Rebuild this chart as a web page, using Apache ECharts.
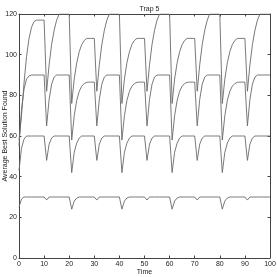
<!DOCTYPE html>
<html>
<head>
<meta charset="utf-8">
<script src="https://cdn.jsdelivr.net/npm/echarts@6/dist/echarts.min.js"></script>
<style>html,body{margin:0;padding:0;background:#fff}#c{width:277px;height:277px}</style>
</head>
<body>
<div id="c"></div>
<script>
const time = [0,1,2,3,4,5,6,7,8,9,10,11,12,13,14,15,16,17,18,19,20,21,22,23,24,25,26,27,28,29,30,31,32,33,34,35,36,37,38,39,40,41,42,43,44,45,46,47,48,49,50,51,52,53,54,55,56,57,58,59,60,61,62,63,64,65,66,67,68,69,70,71,72,73,74,75,76,77,78,79,80,81,82,83,84,85,86,87,88,89,90,91,92,93,94,95,96,97,98,99,100];

const s30 = [25,29,30,30,30,30,30,30,30,30,30,
  28.5,30,30,30,30,30,30,30,30,30,
  24,28,29.5,30,30,30,30,30,30,30,
  28.5,30,30,30,30,30,30,30,30,30,
  24,28,29.5,30,30,30,30,30,30,30,
  28.5,30,30,30,30,30,30,30,30,30,
  24,28,29.5,30,30,30,30,30,30,30,
  28.5,30,30,30,30,30,30,30,30,30,
  24,28,29.5,30,30,30,30,30,30,30,
  28.5,30,30,30,30,30,30,30,30,30];

const s60 = [43,54,58.5,60,60,60,60,60,60,60,60,
  48,56,59,60,60,60,60,60,60,60,
  42,52,56.5,59,60,60,60,60,60,60,
  48,56,59,60,60,60,60,60,60,60,
  42,52,56.5,59,60,60,60,60,60,60,
  48,56,59,60,60,60,60,60,60,60,
  42,52,56.5,59,60,60,60,60,60,60,
  48,56,59,60,60,60,60,60,60,60,
  42,52,56.5,59,60,60,60,60,60,60,
  48,56,59,60,60,60,60,60,60,60];

const s90 = [55,73,83,88,89.5,90,90,90,90,90,90,
  65,78,85.5,89,90,90,90,90,90,90,
  58,70,77.5,82,84.5,85.8,86.4,86.5,86.5,86.5,
  65,78,85.5,89,90,90,90,90,90,90,
  58,70,77.5,82,84.5,85.8,86.4,86.5,86.5,86.5,
  65,78,85.5,89,90,90,90,90,90,90,
  58,70,77.5,82,84.5,85.8,86.4,86.5,86.5,86.5,
  65,78,85.5,89,90,90,90,90,90,90,
  58,70,77.5,82,84.5,85.8,86.4,86.5,86.5,86.5,
  65,78,85.5,89,90,90,90,90,90,90];

const s120 = [58,70,86,99,108,113.5,116.3,117,117,117,117,
  82,95,105,112,117,120,120,120,120,120,
  76,88,96,101.5,105,107,108,108,108,108,
  82,95,105,112,117,120,120,120,120,120,
  76,88,96,101.5,105,107,108,108,108,108,
  82,95,105,112,117,120,120,120,120,120,
  76,88,96,101.5,105,107,108,108,108,108,
  82,95,105,112,117,120,120,120,120,120,
  76,88,96,101.5,105,107,108,108,108,108,
  82,95,105,112,117,120,120,120,120,120];

const xTicks = [0,10,20,30,40,50,60,70,80,90,100];
const yTicks = [0,20,40,60,80,100,120];

const FONT = 'Liberation Sans';
const chart = echarts.init(document.getElementById('c'), null, {renderer:'canvas'});
const pair = arr => time.map((t,i)=>[t,arr[i]]);
const lineStyle = {color:'#6a6a6a', width:0.9};
const axisLineStyle = {color:'#444', width:1};
const mkSeries = arr => ({type:'line', data:pair(arr), showSymbol:false, symbol:'none', lineStyle:lineStyle, xAxisIndex:0, yAxisIndex:0, animation:false, clip:true});

chart.setOption({
  animation:false,
  title:{text:'Trap 5', top:1, left:144.5, textAlign:'center', textStyle:{fontFamily:FONT, fontSize:7, fontWeight:'normal', color:'#222'}},
  grid:{left:19, right:7, top:14, bottom:19, containLabel:false, outerBoundsMode:'none'},
  xAxis:[
    {type:'value', min:xTicks[0], max:xTicks[xTicks.length-1], interval:10, position:'bottom',
     name:'Time', nameLocation:'middle', nameGap:11, nameMoveOverlap:false, nameTextStyle:{fontFamily:FONT, fontSize:7, color:'#222'},
     axisLine:{show:true, onZero:false, lineStyle:axisLineStyle}, axisTick:{show:true, inside:true, length:2.5, lineStyle:axisLineStyle},
     axisLabel:{fontFamily:FONT, fontSize:7, color:'#222', margin:3}, splitLine:{show:false}},
    {type:'value', min:xTicks[0], max:xTicks[xTicks.length-1], interval:10, position:'top',
     axisLine:{show:true, onZero:false, lineStyle:axisLineStyle}, axisTick:{show:true, inside:true, length:2.5, lineStyle:axisLineStyle},
     axisLabel:{show:false}, splitLine:{show:false}}
  ],
  yAxis:[
    {type:'value', min:yTicks[0], max:yTicks[yTicks.length-1], interval:20, position:'left',
     name:'Average Best Solution Found', nameLocation:'middle', nameGap:10, nameMoveOverlap:false, nameTextStyle:{fontFamily:FONT, fontSize:7, color:'#222'},
     axisLine:{show:true, onZero:false, lineStyle:axisLineStyle}, axisTick:{show:true, inside:true, length:2.5, lineStyle:axisLineStyle},
     axisLabel:{fontFamily:FONT, fontSize:7, color:'#222', margin:2}, splitLine:{show:false}},
    {type:'value', min:yTicks[0], max:yTicks[yTicks.length-1], interval:20, position:'right',
     axisLine:{show:true, onZero:false, lineStyle:axisLineStyle}, axisTick:{show:true, inside:true, length:2.5, lineStyle:axisLineStyle},
     axisLabel:{show:false}, splitLine:{show:false}}
  ],
  series:[mkSeries(s30), mkSeries(s60), mkSeries(s90), mkSeries(s120)]
});
</script>
</body>
</html>
